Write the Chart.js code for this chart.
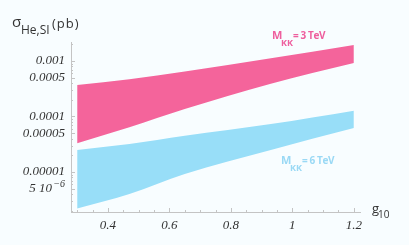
<!DOCTYPE html>
<html lang="en">
<head>
<meta charset="UTF-8" />
<title>Cross section vs g10</title>
<script src="https://cdn.jsdelivr.net/npm/chart.js"></script>
<style>
  html, body { margin: 0; padding: 0; background: #f8fdff; }
  #wrap { width: 409px; height: 245px; }
</style>
</head>
<body>
<div id="wrap"><canvas id="c" width="409" height="245"></canvas></div>
<script>
const g10 = [0.3, 0.47, 0.65, 0.93, 1.2];
// M_KK = 3 TeV band (pb)
const kk3Upper = [3.7e-4, 4.7e-4, 6.5e-4, 1.12e-3, 1.94e-3];
const kk3Lower = [3.3e-5, 6.4e-5, 1.36e-4, 3.9e-4, 9.2e-4];
// M_KK = 6 TeV band (pb)
const kk6Upper = [2.5e-5, 3.2e-5, 4.5e-5, 7.3e-5, 1.27e-4];
const kk6Lower = [2.2e-6, 4.0e-6, 9.2e-6, 2.5e-5, 6.2e-5];

const xTicks = [0.4, 0.6, 0.8, 1, 1.2];
const xTickLabels = ['0.4', '0.6', '0.8', '1', '1.2'];
const yTicks = [0.001, 0.0005, 0.0001, 0.00005, 0.00001, 0.000005];
// last label gets its exponent drawn as a superscript in the plugin
const yTickLabels = ['0.001', '0.0005', '0.0001', '0.00005', '0.00001', '5 10\u2002\u2002'];
const yLastExponent = '\u22126';

const pink = '#f4649b';
const blue = '#98def8';
const tickFont = { family: 'Liberation Serif', size: 13, style: 'italic' };

const pts = ys => g10.map((x, i) => ({ x: x, y: ys[i] }));
const band = (ys, color, fill) => ({
  data: pts(ys),
  borderWidth: 0,
  borderColor: color,
  backgroundColor: color,
  pointRadius: 0,
  cubicInterpolationMode: 'monotone',
  fill: fill
});

// inward ticks, axis titles and band labels
const extras = {
  id: 'extras',
  afterDraw(chart) {
    const ctx = chart.ctx;
    const xs = chart.scales.x, ys = chart.scales.y;
    const a = chart.chartArea;
    ctx.save();
    ctx.strokeStyle = '#c4c4c4';
    ctx.lineWidth = 1;
    ctx.beginPath();
    for (let v = 0.3; v <= 1.2001; v += 0.05) {
      const px = Math.round(xs.getPixelForValue(v)) + 0.5;
      const major = xTicks.some(t => Math.abs(t - v) < 1e-6);
      ctx.moveTo(px, a.bottom);
      ctx.lineTo(px, a.bottom - (major ? 4 : 2));
    }
    for (let k = -6; k <= -3; k++) {
      for (let m = 1; m <= 9; m++) {
        const v = m * Math.pow(10, k);
        if (v < ys.min || v > ys.max) continue;
        const py = Math.round(ys.getPixelForValue(v)) + 0.5;
        const major = m === 1 || m === 5;
        ctx.moveTo(a.left, py);
        ctx.lineTo(a.left + (major ? 4 : 2), py);
      }
    }
    ctx.stroke();

    // exponent of the 5e-6 tick
    ctx.fillStyle = '#333';
    ctx.textAlign = 'right';
    ctx.textBaseline = 'alphabetic';
    ctx.font = 'italic 10px "Liberation Serif"';
    const yLast = ys.getPixelForValue(yTicks[yTicks.length - 1]);
    ctx.fillText(yLastExponent, a.left - 6, yLast - 2);

    ctx.textAlign = 'left';
    ctx.font = '15px "Open Sans"';
    ctx.fillText('\u03C3', 12, 27);
    ctx.font = '12px "Open Sans"';
    ctx.fillText('He,SI', 21, 34);
    ctx.font = '13px "Open Sans"';
    ctx.letterSpacing = '1px';
    ctx.fillText('(pb)', 52, 28);
    ctx.letterSpacing = '0px';

    ctx.font = '13px "Open Sans"';
    ctx.fillText('g', 372, 213);
    ctx.font = '10px "Open Sans"';
    ctx.fillText('10', 378, 218);

    const label = (color, x, y, num) => {
      ctx.fillStyle = color;
      ctx.font = 'bold 11px "Open Sans"';
      ctx.fillText('M', x, y);
      ctx.font = 'bold 9px "Open Sans"';
      ctx.fillText('KK', x + 9, y + 7);
      ctx.font = 'bold 10px "Open Sans"';
      ctx.letterSpacing = '-0.4px';
      ctx.fillText('= ' + num + ' TeV', x + 21, y);
      ctx.letterSpacing = '0px';
    };
    label('#ee5f9e', 272, 39, 3);
    label('#9ad9f5', 281, 164, 6);
    ctx.restore();
  }
};

new Chart(document.getElementById('c'), {
  type: 'line',
  data: {
    datasets: [
      band(kk3Upper, pink, false),
      band(kk3Lower, pink, '-1'),
      band(kk6Upper, blue, false),
      band(kk6Lower, blue, '-1')
    ]
  },
  options: {
    responsive: false,
    animation: false,
    layout: { padding: { left: 0, right: 49, top: 42, bottom: 0 } },
    plugins: { legend: { display: false }, tooltip: { enabled: false } },
    scales: {
      x: {
        type: 'linear',
        min: 0.28,
        max: 1.22,
        afterBuildTicks: s => { s.ticks = xTicks.map(v => ({ value: v })); },
        afterFit: s => { s.height = 33; },
        ticks: {
          callback: (v, i) => xTickLabels[i],
          font: tickFont,
          color: '#333',
          padding: 6,
          maxRotation: 0,
          autoSkip: false
        },
        grid: { display: false, drawTicks: false },
        border: { color: '#c4c4c4' }
      },
      y: {
        type: 'logarithmic',
        min: 1.9e-6,
        max: 2.2e-3,
        afterBuildTicks: s => { s.ticks = yTicks.map(v => ({ value: v })); },
        afterFit: s => { s.width = 71; },
        ticks: {
          callback: (v, i) => yTickLabels[i],
          font: tickFont,
          color: '#333',
          padding: 6,
          autoSkip: false
        },
        grid: { display: false, drawTicks: false },
        border: { color: '#c4c4c4' }
      }
    }
  },
  plugins: [extras]
});
</script>
</body>
</html>
